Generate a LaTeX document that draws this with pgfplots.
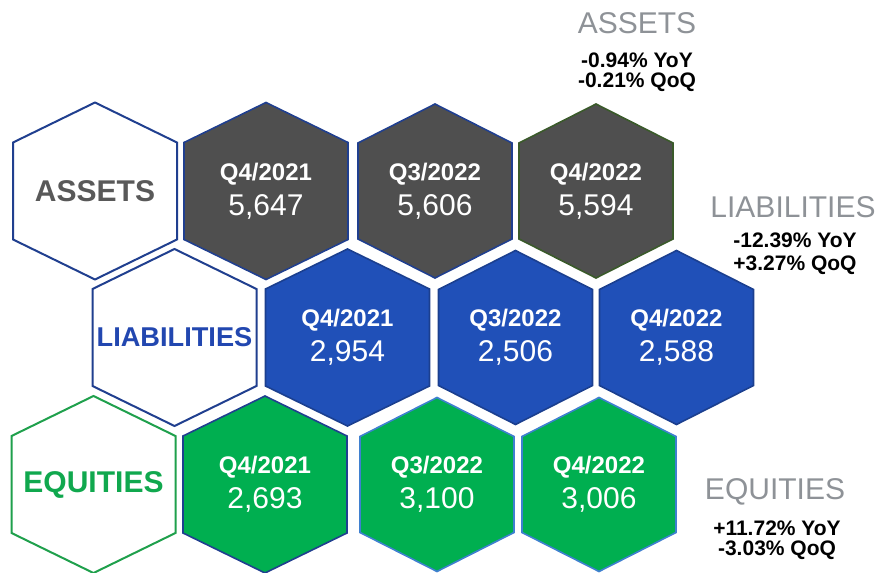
\documentclass[border=0pt]{standalone}
\usepackage{fontspec}
\setmainfont{Liberation Sans}
\usepackage{pgfplots}
\pgfplotsset{compat=1.18}

\definecolor{hgray}{HTML}{4F4F4F}
\definecolor{hblue}{HTML}{2050B8}
\definecolor{hgreen}{HTML}{00AF50}
\definecolor{navy}{HTML}{203F8F}
\definecolor{dkgreen}{HTML}{3A5A2A}
\definecolor{ltblue}{HTML}{3F80D0}
\definecolor{edgeblue}{HTML}{1B3F8F}
\definecolor{edgegreen}{HTML}{1FA04C}
\definecolor{labgray}{HTML}{595959}
\definecolor{labblue}{HTML}{2247B0}
\definecolor{labgreen}{HTML}{10A84E}
\definecolor{sidegray}{HTML}{8E9297}

% pointy-top hexagons, 1 px of the reference = 0.5pt
\pgfdeclareplotmark{hexW}{%
  \pgfpathmoveto{\pgfqpoint{0pt}{44.25pt}}%
  \pgfpathlineto{\pgfqpoint{41pt}{24.25pt}}%
  \pgfpathlineto{\pgfqpoint{41pt}{-24.25pt}}%
  \pgfpathlineto{\pgfqpoint{0pt}{-44.25pt}}%
  \pgfpathlineto{\pgfqpoint{-41pt}{-24.25pt}}%
  \pgfpathlineto{\pgfqpoint{-41pt}{24.25pt}}%
  \pgfpathclose
  \pgfusepathqfillstroke}
\pgfdeclareplotmark{hexN}{%
  \pgfpathmoveto{\pgfqpoint{0pt}{43.5pt}}%
  \pgfpathlineto{\pgfqpoint{38.5pt}{24pt}}%
  \pgfpathlineto{\pgfqpoint{38.5pt}{-24pt}}%
  \pgfpathlineto{\pgfqpoint{0pt}{-43.5pt}}%
  \pgfpathlineto{\pgfqpoint{-38.5pt}{-24pt}}%
  \pgfpathlineto{\pgfqpoint{-38.5pt}{24pt}}%
  \pgfpathclose
  \pgfusepathqfillstroke}

\pgfplotsset{
  head/.style n args={3}{only marks, mark=hexW,
    mark options={fill=white, draw=#1, line width=1pt},
    point meta=explicit symbolic,
    nodes near coords,
    every node near coord/.append style={anchor=center, text=#2,
      font=\fontsize{#3}{18}\selectfont\bfseries}},
  cell/.style n args={3}{only marks, mark=#1,
    mark options={fill=#2, draw=#3, line width=0.8pt},
    point meta=explicit symbolic,
    visualization depends on={\thisrow{v}\as\cellval},
    nodes near coords={{\fontsize{12}{14}\selectfont\bfseries\pgfplotspointmeta}\\
      \pgfmathprintnumber[1000 sep={,}, assume math mode=true]{\cellval}},
    every node near coord/.append style={anchor=center, align=center,
      text=white, font=\fontsize{15}{17.5}\selectfont}},
}

\begin{document}
\begin{tikzpicture}
\begin{axis}[
  name=ax,
  width=440pt, height=286.5pt, scale only axis,
  xmin=0, xmax=880, ymin=0, ymax=573,
  y dir=reverse,
  hide axis, clip=false,
]
% row names
\addplot[head={navy}{labgray}{15}] coordinates {(95,191) [ASSETS]};
\addplot[head={navy}{labblue}{13.6}] coordinates {(174.5,337.5) [LIABILITIES]};
\addplot[head={edgegreen}{labgreen}{15}] coordinates {(93.5,484.5) [EQUITIES]};

% assets
\addplot[cell={hexW}{hgray}{navy}] table[x=x, y=y, meta=q] {
x   y   q       v
266 191 Q4/2021 5647
};
\addplot[cell={hexN}{hgray}{navy}] table[x=x, y=y, meta=q] {
x   y   q       v
435 191 Q3/2022 5606
};
\addplot[cell={hexN}{hgray}{dkgreen}] table[x=x, y=y, meta=q] {
x   y   q       v
596 191 Q4/2022 5594
};
% liabilities
\addplot[cell={hexW}{hblue}{edgeblue}] table[x=x, y=y, meta=q] {
x     y     q       v
347.5 337.5 Q4/2021 2954
};
\addplot[cell={hexN}{hblue}{edgeblue}] table[x=x, y=y, meta=q] {
x     y     q       v
515.5 337.5 Q3/2022 2506
676.5 337.5 Q4/2022 2588
};
% equities
\addplot[cell={hexW}{hgreen}{navy}] table[x=x, y=y, meta=q] {
x   y     q       v
265 484.5 Q4/2021 2693
};
\addplot[cell={hexN}{hgreen}{ltblue}] table[x=x, y=y, meta=q] {
x   y     q       v
437 484.5 Q3/2022 3100
599 484.5 Q4/2022 3006
};

% changes on the right
\node[font=\fontsize{15}{18}\selectfont, text=sidegray]
  at (axis cs:637,23) {ASSETS};
\node[font=\fontsize{10.5}{10}\selectfont\bfseries, align=center]
  at (axis cs:637,72) {-0.94\% YoY\\-0.21\% QoQ};
\node[font=\fontsize{15}{18}\selectfont, text=sidegray]
  at (axis cs:793,207) {LIABILITIES};
\node[font=\fontsize{10.5}{11.5}\selectfont\bfseries, align=center]
  at (axis cs:795,253.5) {-12.39\% YoY\\+3.27\% QoQ};
\node[font=\fontsize{15}{18}\selectfont, text=sidegray]
  at (axis cs:775,492) {EQUITIES};
\node[font=\fontsize{10.5}{10}\selectfont\bfseries, align=center]
  at (axis cs:777,540.5) {+11.72\% YoY\\-3.03\% QoQ};
\end{axis}
\pgfresetboundingbox
\useasboundingbox (ax.south west) rectangle (ax.north east);
\end{tikzpicture}
\end{document}
